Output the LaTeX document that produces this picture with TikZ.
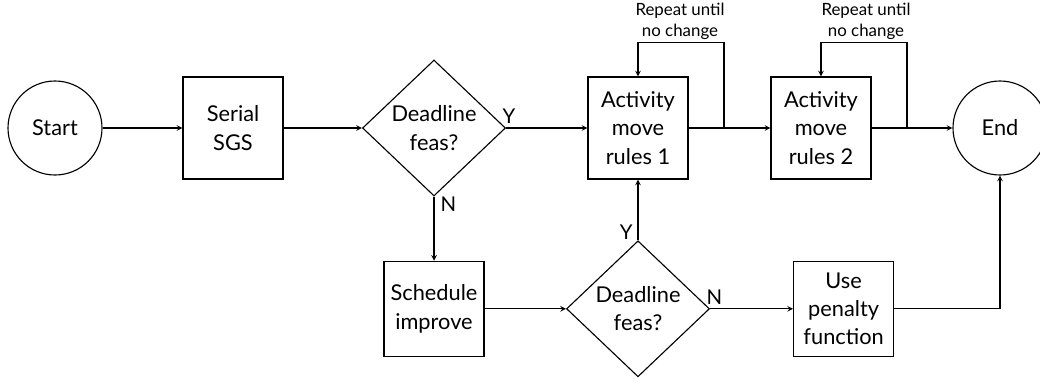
\documentclass[tikz,border=0pt]{standalone}
\usepackage{fontspec}
\setmainfont{Lato}
\usetikzlibrary{positioning}
\usetikzlibrary{arrows}
\usetikzlibrary{shapes.geometric}

\tikzset{
  every terminal/.style={draw, circle, minimum size=2.35cm, inner sep=0pt,
    font=\fontsize{15.5}{20}\selectfont},
  every process/.style={draw, rectangle, minimum width=2.5cm, minimum height=2.55cm,
    inner sep=0pt, align=center, font=\fontsize{15.5}{20}\selectfont},
  every decision/.style={draw, diamond, minimum width=3.575cm, minimum height=3.4cm,
    inner sep=0pt, align=center, font=\fontsize{15.5}{20}\selectfont},
  every branch/.style={inner sep=0pt, font=\fontsize{14.5}{17}\selectfont},
  every note/.style={inner sep=0pt, align=center, font=\fontsize{12}{15}\selectfont}
}

\begin{document}
\begin{tikzpicture}[x=1.0cm, y=1.0cm, >=stealth, line width=0.8pt]

\useasboundingbox (0,0) rectangle (26,-9.575);

% top row
\node [every terminal/.try] (start) at (1.375,-3.2) {Start};
\node [every process/.try] (sgs) at (5.825,-3.2) {Serial\\SGS};
\node [every decision/.try] (feas-1) at (10.85,-3.2) {Deadline\\feas?};
\node [every process/.try] (rules-1) at (15.95,-3.2) {Activity\\move\\rules 1};
\node [every process/.try] (rules-2) at (20.525,-3.2) {Activity\\move\\rules 2};
\node [every terminal/.try] (end) at (25,-3.2) {End};

% bottom row
\node [every process/.try, minimum height=2.375cm] (sched) at (10.85,-7.72) {Schedule\\improve};
\node [every decision/.try] (feas-2) at (15.95,-7.72) {Deadline\\feas?};
\node [every process/.try, minimum height=2.375cm] (penalty) at (21.09,-7.72) {Use\\penalty\\function};

\foreach \a/\b in {start/sgs, sgs/feas-1, feas-1/rules-1, rules-1/rules-2, rules-2/end,
                   feas-1/sched, sched/feas-2, feas-2/rules-1, feas-2/penalty}
  \draw [->] (\a) -- (\b);

\draw [->] (penalty) -| (end);

% repeat loops
\coordinate (tap-1) at (18.1,-3.2);
\coordinate (tap-2) at (22.675,-3.2);

\foreach \i/\x in {1/17.0, 2/21.65} {
  \draw [->] (tap-\i) |- ([yshift=0.85cm]rules-\i.north) -- (rules-\i.north);
  \node [every note/.try] (note-\i) at (\x,-0.54) {Repeat until\\no change};
}

% branch labels
\node [every branch/.try, above right=0.1cm and -0.1cm of feas-1.east] (yes-1) {Y};
\node [every branch/.try, right=0.15cm of feas-1.south, yshift=-0.2cm] (no-1) {N};
\node [every branch/.try, above left=0cm and 0.12cm of feas-2.north] (yes-2) {Y};
\node [every branch/.try, above right=0.1cm and -0.1cm of feas-2.east] (no-2) {N};

\end{tikzpicture}
\end{document}
